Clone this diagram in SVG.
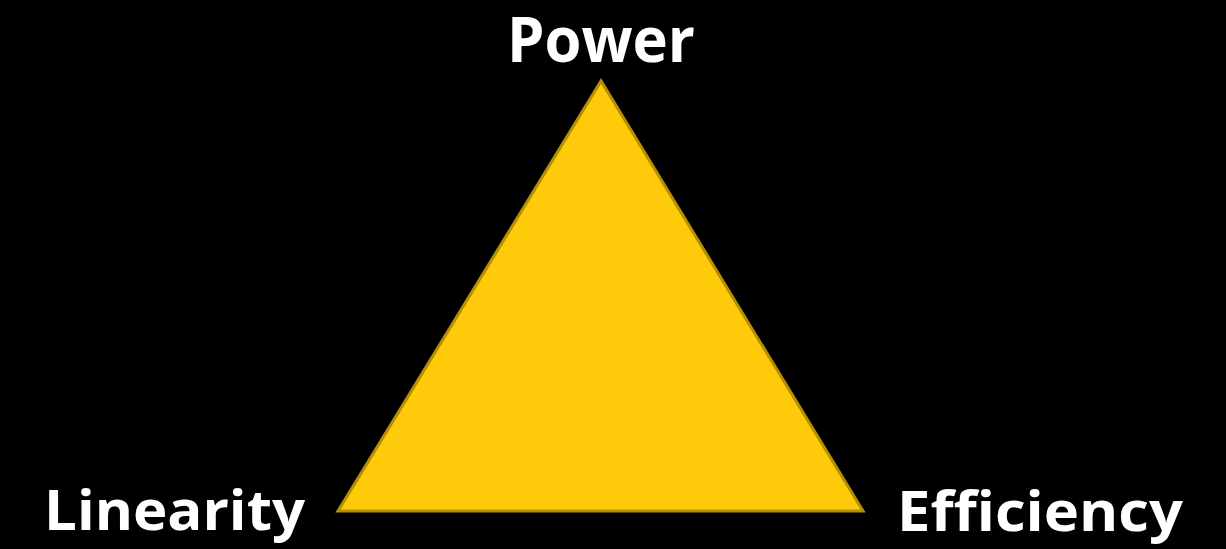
<svg xmlns="http://www.w3.org/2000/svg" width="1226" height="549" viewBox="0 0 1226 549">
<style>
.lbl{font-family:"Open Sans","Liberation Sans",sans-serif;font-weight:bold;fill:#ffffff}
.tri{fill:#ffca0a;stroke:#b58f00;stroke-width:3;stroke-linejoin:miter}
</style>
<rect x="0" y="0" width="1226" height="549" fill="#000000"/>
<g id="triangle">
<polygon class="tri" points="601,81 338,511 863,511"/>
</g>
<g id="connectors"/>
<g id="node-power">
<text class="lbl" x="507" y="62" font-size="63" textLength="188" lengthAdjust="spacingAndGlyphs">Power</text>
</g>
<g id="node-linearity">
<text class="lbl" x="44" y="530" font-size="55" textLength="261" lengthAdjust="spacingAndGlyphs">Linearity</text>
</g>
<g id="node-efficiency">
<text class="lbl" x="897" y="531" font-size="55" textLength="286" lengthAdjust="spacingAndGlyphs">Efficiency</text>
</g>
</svg>
